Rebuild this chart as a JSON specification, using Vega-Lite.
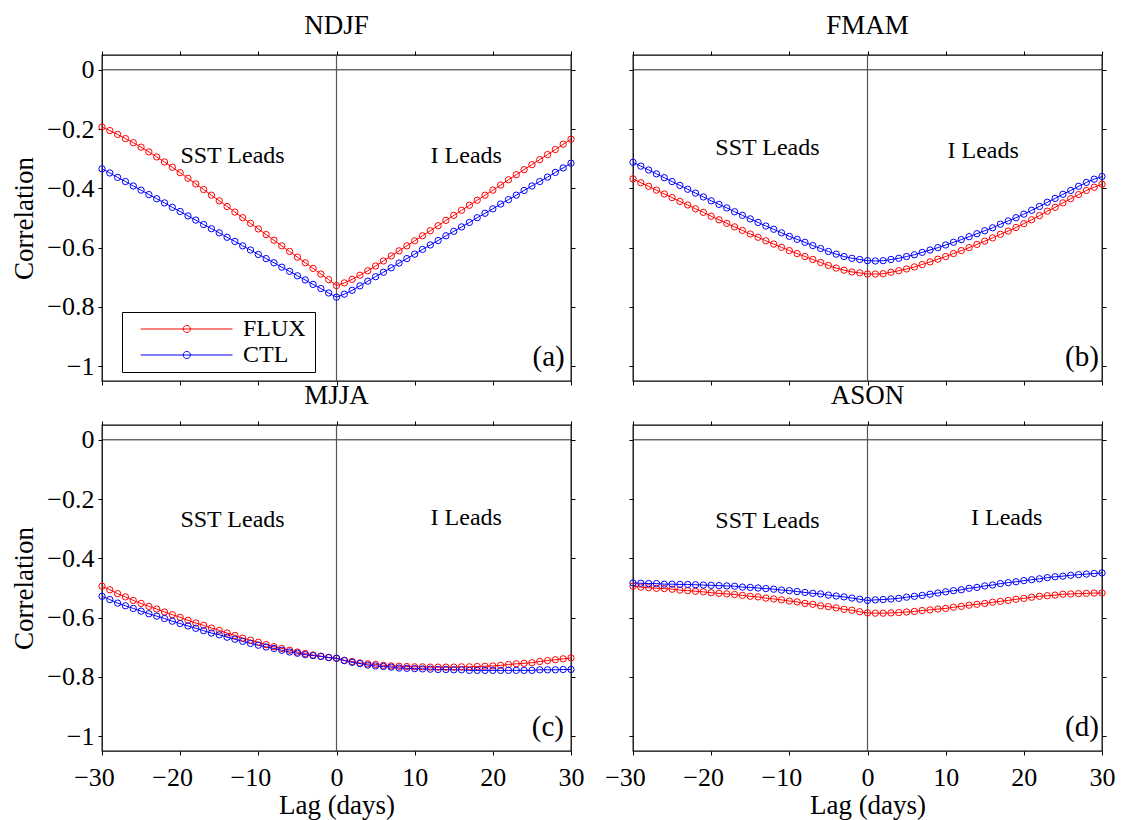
{
"$schema":"https://vega.github.io/schema/vega-lite/v6.json",
"background":"white",
"padding":{"left":10,"top":10,"right":8,"bottom":6},
"config":{
 "font":"Liberation Serif",
 "view":{"stroke":"black","strokeWidth":1.3},
 "axis":{"domain":false,"grid":false,"tickColor":"black","tickSize":4,"tickWidth":1,"labelFont":"Liberation Serif","labelFontSize":26,"labelColor":"black","labelPadding":4,"labelFlush":false,"labelOverlap":false,"titleFont":"Liberation Serif","titleFontSize":27,"titleFontWeight":"normal","titleColor":"black"},
 "title":{"font":"Liberation Serif","fontSize":27,"fontWeight":"normal","color":"black","offset":11},
 "text":{"font":"Liberation Serif","color":"black"}
},
"datasets":{
"corr":[
{"panel":"a","series":"FLUX","lag":-30,"corr":-0.193},{"panel":"a","series":"FLUX","lag":-29,"corr":-0.205},{"panel":"a","series":"FLUX","lag":-28,"corr":-0.218},{"panel":"a","series":"FLUX","lag":-27,"corr":-0.232},{"panel":"a","series":"FLUX","lag":-26,"corr":-0.246},{"panel":"a","series":"FLUX","lag":-25,"corr":-0.261},{"panel":"a","series":"FLUX","lag":-24,"corr":-0.277},{"panel":"a","series":"FLUX","lag":-23,"corr":-0.294},{"panel":"a","series":"FLUX","lag":-22,"corr":-0.311},{"panel":"a","series":"FLUX","lag":-21,"corr":-0.329},{"panel":"a","series":"FLUX","lag":-20,"corr":-0.347},{"panel":"a","series":"FLUX","lag":-19,"corr":-0.366},{"panel":"a","series":"FLUX","lag":-18,"corr":-0.385},{"panel":"a","series":"FLUX","lag":-17,"corr":-0.404},{"panel":"a","series":"FLUX","lag":-16,"corr":-0.423},{"panel":"a","series":"FLUX","lag":-15,"corr":-0.442},{"panel":"a","series":"FLUX","lag":-14,"corr":-0.461},{"panel":"a","series":"FLUX","lag":-13,"corr":-0.480},{"panel":"a","series":"FLUX","lag":-12,"corr":-0.499},{"panel":"a","series":"FLUX","lag":-11,"corr":-0.518},{"panel":"a","series":"FLUX","lag":-10,"corr":-0.537},{"panel":"a","series":"FLUX","lag":-9,"corr":-0.556},{"panel":"a","series":"FLUX","lag":-8,"corr":-0.575},{"panel":"a","series":"FLUX","lag":-7,"corr":-0.594},{"panel":"a","series":"FLUX","lag":-6,"corr":-0.613},{"panel":"a","series":"FLUX","lag":-5,"corr":-0.632},{"panel":"a","series":"FLUX","lag":-4,"corr":-0.651},{"panel":"a","series":"FLUX","lag":-3,"corr":-0.670},{"panel":"a","series":"FLUX","lag":-2,"corr":-0.689},{"panel":"a","series":"FLUX","lag":-1,"corr":-0.708},{"panel":"a","series":"FLUX","lag":0,"corr":-0.728},{"panel":"a","series":"FLUX","lag":1,"corr":-0.719},{"panel":"a","series":"FLUX","lag":2,"corr":-0.707},{"panel":"a","series":"FLUX","lag":3,"corr":-0.693},{"panel":"a","series":"FLUX","lag":4,"corr":-0.678},{"panel":"a","series":"FLUX","lag":5,"corr":-0.662},{"panel":"a","series":"FLUX","lag":6,"corr":-0.645},{"panel":"a","series":"FLUX","lag":7,"corr":-0.628},{"panel":"a","series":"FLUX","lag":8,"corr":-0.611},{"panel":"a","series":"FLUX","lag":9,"corr":-0.594},{"panel":"a","series":"FLUX","lag":10,"corr":-0.577},{"panel":"a","series":"FLUX","lag":11,"corr":-0.560},{"panel":"a","series":"FLUX","lag":12,"corr":-0.543},{"panel":"a","series":"FLUX","lag":13,"corr":-0.526},{"panel":"a","series":"FLUX","lag":14,"corr":-0.508},{"panel":"a","series":"FLUX","lag":15,"corr":-0.491},{"panel":"a","series":"FLUX","lag":16,"corr":-0.474},{"panel":"a","series":"FLUX","lag":17,"corr":-0.457},{"panel":"a","series":"FLUX","lag":18,"corr":-0.440},{"panel":"a","series":"FLUX","lag":19,"corr":-0.423},{"panel":"a","series":"FLUX","lag":20,"corr":-0.406},{"panel":"a","series":"FLUX","lag":21,"corr":-0.389},{"panel":"a","series":"FLUX","lag":22,"corr":-0.371},{"panel":"a","series":"FLUX","lag":23,"corr":-0.354},{"panel":"a","series":"FLUX","lag":24,"corr":-0.337},{"panel":"a","series":"FLUX","lag":25,"corr":-0.320},{"panel":"a","series":"FLUX","lag":26,"corr":-0.303},{"panel":"a","series":"FLUX","lag":27,"corr":-0.286},{"panel":"a","series":"FLUX","lag":28,"corr":-0.269},{"panel":"a","series":"FLUX","lag":29,"corr":-0.251},{"panel":"a","series":"FLUX","lag":30,"corr":-0.234},
{"panel":"a","series":"CTL","lag":-30,"corr":-0.334},{"panel":"a","series":"CTL","lag":-29,"corr":-0.348},{"panel":"a","series":"CTL","lag":-28,"corr":-0.363},{"panel":"a","series":"CTL","lag":-27,"corr":-0.377},{"panel":"a","series":"CTL","lag":-26,"corr":-0.392},{"panel":"a","series":"CTL","lag":-25,"corr":-0.406},{"panel":"a","series":"CTL","lag":-24,"corr":-0.421},{"panel":"a","series":"CTL","lag":-23,"corr":-0.435},{"panel":"a","series":"CTL","lag":-22,"corr":-0.449},{"panel":"a","series":"CTL","lag":-21,"corr":-0.464},{"panel":"a","series":"CTL","lag":-20,"corr":-0.478},{"panel":"a","series":"CTL","lag":-19,"corr":-0.493},{"panel":"a","series":"CTL","lag":-18,"corr":-0.507},{"panel":"a","series":"CTL","lag":-17,"corr":-0.522},{"panel":"a","series":"CTL","lag":-16,"corr":-0.536},{"panel":"a","series":"CTL","lag":-15,"corr":-0.550},{"panel":"a","series":"CTL","lag":-14,"corr":-0.565},{"panel":"a","series":"CTL","lag":-13,"corr":-0.579},{"panel":"a","series":"CTL","lag":-12,"corr":-0.594},{"panel":"a","series":"CTL","lag":-11,"corr":-0.608},{"panel":"a","series":"CTL","lag":-10,"corr":-0.623},{"panel":"a","series":"CTL","lag":-9,"corr":-0.637},{"panel":"a","series":"CTL","lag":-8,"corr":-0.651},{"panel":"a","series":"CTL","lag":-7,"corr":-0.666},{"panel":"a","series":"CTL","lag":-6,"corr":-0.680},{"panel":"a","series":"CTL","lag":-5,"corr":-0.695},{"panel":"a","series":"CTL","lag":-4,"corr":-0.709},{"panel":"a","series":"CTL","lag":-3,"corr":-0.724},{"panel":"a","series":"CTL","lag":-2,"corr":-0.738},{"panel":"a","series":"CTL","lag":-1,"corr":-0.753},{"panel":"a","series":"CTL","lag":0,"corr":-0.767},{"panel":"a","series":"CTL","lag":1,"corr":-0.757},{"panel":"a","series":"CTL","lag":2,"corr":-0.744},{"panel":"a","series":"CTL","lag":3,"corr":-0.729},{"panel":"a","series":"CTL","lag":4,"corr":-0.713},{"panel":"a","series":"CTL","lag":5,"corr":-0.698},{"panel":"a","series":"CTL","lag":6,"corr":-0.683},{"panel":"a","series":"CTL","lag":7,"corr":-0.668},{"panel":"a","series":"CTL","lag":8,"corr":-0.652},{"panel":"a","series":"CTL","lag":9,"corr":-0.637},{"panel":"a","series":"CTL","lag":10,"corr":-0.622},{"panel":"a","series":"CTL","lag":11,"corr":-0.606},{"panel":"a","series":"CTL","lag":12,"corr":-0.591},{"panel":"a","series":"CTL","lag":13,"corr":-0.576},{"panel":"a","series":"CTL","lag":14,"corr":-0.560},{"panel":"a","series":"CTL","lag":15,"corr":-0.545},{"panel":"a","series":"CTL","lag":16,"corr":-0.530},{"panel":"a","series":"CTL","lag":17,"corr":-0.515},{"panel":"a","series":"CTL","lag":18,"corr":-0.499},{"panel":"a","series":"CTL","lag":19,"corr":-0.484},{"panel":"a","series":"CTL","lag":20,"corr":-0.469},{"panel":"a","series":"CTL","lag":21,"corr":-0.453},{"panel":"a","series":"CTL","lag":22,"corr":-0.438},{"panel":"a","series":"CTL","lag":23,"corr":-0.423},{"panel":"a","series":"CTL","lag":24,"corr":-0.407},{"panel":"a","series":"CTL","lag":25,"corr":-0.392},{"panel":"a","series":"CTL","lag":26,"corr":-0.377},{"panel":"a","series":"CTL","lag":27,"corr":-0.362},{"panel":"a","series":"CTL","lag":28,"corr":-0.346},{"panel":"a","series":"CTL","lag":29,"corr":-0.331},{"panel":"a","series":"CTL","lag":30,"corr":-0.315},
{"panel":"b","series":"FLUX","lag":-30,"corr":-0.368},{"panel":"b","series":"FLUX","lag":-29,"corr":-0.381},{"panel":"b","series":"FLUX","lag":-28,"corr":-0.393},{"panel":"b","series":"FLUX","lag":-27,"corr":-0.406},{"panel":"b","series":"FLUX","lag":-26,"corr":-0.419},{"panel":"b","series":"FLUX","lag":-25,"corr":-0.431},{"panel":"b","series":"FLUX","lag":-24,"corr":-0.444},{"panel":"b","series":"FLUX","lag":-23,"corr":-0.456},{"panel":"b","series":"FLUX","lag":-22,"corr":-0.469},{"panel":"b","series":"FLUX","lag":-21,"corr":-0.481},{"panel":"b","series":"FLUX","lag":-20,"corr":-0.494},{"panel":"b","series":"FLUX","lag":-19,"corr":-0.506},{"panel":"b","series":"FLUX","lag":-18,"corr":-0.518},{"panel":"b","series":"FLUX","lag":-17,"corr":-0.530},{"panel":"b","series":"FLUX","lag":-16,"corr":-0.542},{"panel":"b","series":"FLUX","lag":-15,"corr":-0.554},{"panel":"b","series":"FLUX","lag":-14,"corr":-0.565},{"panel":"b","series":"FLUX","lag":-13,"corr":-0.577},{"panel":"b","series":"FLUX","lag":-12,"corr":-0.588},{"panel":"b","series":"FLUX","lag":-11,"corr":-0.599},{"panel":"b","series":"FLUX","lag":-10,"corr":-0.610},{"panel":"b","series":"FLUX","lag":-9,"corr":-0.620},{"panel":"b","series":"FLUX","lag":-8,"corr":-0.630},{"panel":"b","series":"FLUX","lag":-7,"corr":-0.640},{"panel":"b","series":"FLUX","lag":-6,"corr":-0.650},{"panel":"b","series":"FLUX","lag":-5,"corr":-0.660},{"panel":"b","series":"FLUX","lag":-4,"corr":-0.669},{"panel":"b","series":"FLUX","lag":-3,"corr":-0.676},{"panel":"b","series":"FLUX","lag":-2,"corr":-0.682},{"panel":"b","series":"FLUX","lag":-1,"corr":-0.685},{"panel":"b","series":"FLUX","lag":0,"corr":-0.689},{"panel":"b","series":"FLUX","lag":1,"corr":-0.689},{"panel":"b","series":"FLUX","lag":2,"corr":-0.688},{"panel":"b","series":"FLUX","lag":3,"corr":-0.683},{"panel":"b","series":"FLUX","lag":4,"corr":-0.678},{"panel":"b","series":"FLUX","lag":5,"corr":-0.672},{"panel":"b","series":"FLUX","lag":6,"corr":-0.665},{"panel":"b","series":"FLUX","lag":7,"corr":-0.657},{"panel":"b","series":"FLUX","lag":8,"corr":-0.648},{"panel":"b","series":"FLUX","lag":9,"corr":-0.639},{"panel":"b","series":"FLUX","lag":10,"corr":-0.630},{"panel":"b","series":"FLUX","lag":11,"corr":-0.620},{"panel":"b","series":"FLUX","lag":12,"corr":-0.610},{"panel":"b","series":"FLUX","lag":13,"corr":-0.600},{"panel":"b","series":"FLUX","lag":14,"corr":-0.589},{"panel":"b","series":"FLUX","lag":15,"corr":-0.578},{"panel":"b","series":"FLUX","lag":16,"corr":-0.567},{"panel":"b","series":"FLUX","lag":17,"corr":-0.555},{"panel":"b","series":"FLUX","lag":18,"corr":-0.544},{"panel":"b","series":"FLUX","lag":19,"corr":-0.532},{"panel":"b","series":"FLUX","lag":20,"corr":-0.519},{"panel":"b","series":"FLUX","lag":21,"corr":-0.506},{"panel":"b","series":"FLUX","lag":22,"corr":-0.492},{"panel":"b","series":"FLUX","lag":23,"corr":-0.477},{"panel":"b","series":"FLUX","lag":24,"corr":-0.464},{"panel":"b","series":"FLUX","lag":25,"corr":-0.449},{"panel":"b","series":"FLUX","lag":26,"corr":-0.435},{"panel":"b","series":"FLUX","lag":27,"corr":-0.421},{"panel":"b","series":"FLUX","lag":28,"corr":-0.407},{"panel":"b","series":"FLUX","lag":29,"corr":-0.396},{"panel":"b","series":"FLUX","lag":30,"corr":-0.386},
{"panel":"b","series":"CTL","lag":-30,"corr":-0.312},{"panel":"b","series":"CTL","lag":-29,"corr":-0.325},{"panel":"b","series":"CTL","lag":-28,"corr":-0.338},{"panel":"b","series":"CTL","lag":-27,"corr":-0.351},{"panel":"b","series":"CTL","lag":-26,"corr":-0.364},{"panel":"b","series":"CTL","lag":-25,"corr":-0.377},{"panel":"b","series":"CTL","lag":-24,"corr":-0.390},{"panel":"b","series":"CTL","lag":-23,"corr":-0.403},{"panel":"b","series":"CTL","lag":-22,"corr":-0.416},{"panel":"b","series":"CTL","lag":-21,"corr":-0.429},{"panel":"b","series":"CTL","lag":-20,"corr":-0.442},{"panel":"b","series":"CTL","lag":-19,"corr":-0.454},{"panel":"b","series":"CTL","lag":-18,"corr":-0.466},{"panel":"b","series":"CTL","lag":-17,"corr":-0.479},{"panel":"b","series":"CTL","lag":-16,"corr":-0.491},{"panel":"b","series":"CTL","lag":-15,"corr":-0.503},{"panel":"b","series":"CTL","lag":-14,"corr":-0.515},{"panel":"b","series":"CTL","lag":-13,"corr":-0.527},{"panel":"b","series":"CTL","lag":-12,"corr":-0.538},{"panel":"b","series":"CTL","lag":-11,"corr":-0.550},{"panel":"b","series":"CTL","lag":-10,"corr":-0.562},{"panel":"b","series":"CTL","lag":-9,"corr":-0.572},{"panel":"b","series":"CTL","lag":-8,"corr":-0.582},{"panel":"b","series":"CTL","lag":-7,"corr":-0.593},{"panel":"b","series":"CTL","lag":-6,"corr":-0.603},{"panel":"b","series":"CTL","lag":-5,"corr":-0.613},{"panel":"b","series":"CTL","lag":-4,"corr":-0.622},{"panel":"b","series":"CTL","lag":-3,"corr":-0.630},{"panel":"b","series":"CTL","lag":-2,"corr":-0.636},{"panel":"b","series":"CTL","lag":-1,"corr":-0.640},{"panel":"b","series":"CTL","lag":0,"corr":-0.644},{"panel":"b","series":"CTL","lag":1,"corr":-0.645},{"panel":"b","series":"CTL","lag":2,"corr":-0.644},{"panel":"b","series":"CTL","lag":3,"corr":-0.640},{"panel":"b","series":"CTL","lag":4,"corr":-0.636},{"panel":"b","series":"CTL","lag":5,"corr":-0.630},{"panel":"b","series":"CTL","lag":6,"corr":-0.624},{"panel":"b","series":"CTL","lag":7,"corr":-0.616},{"panel":"b","series":"CTL","lag":8,"corr":-0.608},{"panel":"b","series":"CTL","lag":9,"corr":-0.600},{"panel":"b","series":"CTL","lag":10,"corr":-0.591},{"panel":"b","series":"CTL","lag":11,"corr":-0.582},{"panel":"b","series":"CTL","lag":12,"corr":-0.573},{"panel":"b","series":"CTL","lag":13,"corr":-0.563},{"panel":"b","series":"CTL","lag":14,"corr":-0.553},{"panel":"b","series":"CTL","lag":15,"corr":-0.543},{"panel":"b","series":"CTL","lag":16,"corr":-0.533},{"panel":"b","series":"CTL","lag":17,"corr":-0.521},{"panel":"b","series":"CTL","lag":18,"corr":-0.510},{"panel":"b","series":"CTL","lag":19,"corr":-0.499},{"panel":"b","series":"CTL","lag":20,"corr":-0.487},{"panel":"b","series":"CTL","lag":21,"corr":-0.474},{"panel":"b","series":"CTL","lag":22,"corr":-0.461},{"panel":"b","series":"CTL","lag":23,"corr":-0.447},{"panel":"b","series":"CTL","lag":24,"corr":-0.434},{"panel":"b","series":"CTL","lag":25,"corr":-0.420},{"panel":"b","series":"CTL","lag":26,"corr":-0.407},{"panel":"b","series":"CTL","lag":27,"corr":-0.393},{"panel":"b","series":"CTL","lag":28,"corr":-0.380},{"panel":"b","series":"CTL","lag":29,"corr":-0.369},{"panel":"b","series":"CTL","lag":30,"corr":-0.360},
{"panel":"c","series":"FLUX","lag":-30,"corr":-0.494},{"panel":"c","series":"FLUX","lag":-29,"corr":-0.506},{"panel":"c","series":"FLUX","lag":-28,"corr":-0.519},{"panel":"c","series":"FLUX","lag":-27,"corr":-0.530},{"panel":"c","series":"FLUX","lag":-26,"corr":-0.542},{"panel":"c","series":"FLUX","lag":-25,"corr":-0.552},{"panel":"c","series":"FLUX","lag":-24,"corr":-0.562},{"panel":"c","series":"FLUX","lag":-23,"corr":-0.571},{"panel":"c","series":"FLUX","lag":-22,"corr":-0.581},{"panel":"c","series":"FLUX","lag":-21,"corr":-0.590},{"panel":"c","series":"FLUX","lag":-20,"corr":-0.599},{"panel":"c","series":"FLUX","lag":-19,"corr":-0.609},{"panel":"c","series":"FLUX","lag":-18,"corr":-0.618},{"panel":"c","series":"FLUX","lag":-17,"corr":-0.626},{"panel":"c","series":"FLUX","lag":-16,"corr":-0.635},{"panel":"c","series":"FLUX","lag":-15,"corr":-0.643},{"panel":"c","series":"FLUX","lag":-14,"corr":-0.652},{"panel":"c","series":"FLUX","lag":-13,"corr":-0.660},{"panel":"c","series":"FLUX","lag":-12,"corr":-0.669},{"panel":"c","series":"FLUX","lag":-11,"corr":-0.676},{"panel":"c","series":"FLUX","lag":-10,"corr":-0.683},{"panel":"c","series":"FLUX","lag":-9,"corr":-0.691},{"panel":"c","series":"FLUX","lag":-8,"corr":-0.698},{"panel":"c","series":"FLUX","lag":-7,"corr":-0.704},{"panel":"c","series":"FLUX","lag":-6,"corr":-0.710},{"panel":"c","series":"FLUX","lag":-5,"corr":-0.716},{"panel":"c","series":"FLUX","lag":-4,"corr":-0.721},{"panel":"c","series":"FLUX","lag":-3,"corr":-0.726},{"panel":"c","series":"FLUX","lag":-2,"corr":-0.730},{"panel":"c","series":"FLUX","lag":-1,"corr":-0.734},{"panel":"c","series":"FLUX","lag":0,"corr":-0.737},{"panel":"c","series":"FLUX","lag":1,"corr":-0.744},{"panel":"c","series":"FLUX","lag":2,"corr":-0.748},{"panel":"c","series":"FLUX","lag":3,"corr":-0.753},{"panel":"c","series":"FLUX","lag":4,"corr":-0.756},{"panel":"c","series":"FLUX","lag":5,"corr":-0.758},{"panel":"c","series":"FLUX","lag":6,"corr":-0.761},{"panel":"c","series":"FLUX","lag":7,"corr":-0.763},{"panel":"c","series":"FLUX","lag":8,"corr":-0.764},{"panel":"c","series":"FLUX","lag":9,"corr":-0.765},{"panel":"c","series":"FLUX","lag":10,"corr":-0.766},{"panel":"c","series":"FLUX","lag":11,"corr":-0.766},{"panel":"c","series":"FLUX","lag":12,"corr":-0.767},{"panel":"c","series":"FLUX","lag":13,"corr":-0.767},{"panel":"c","series":"FLUX","lag":14,"corr":-0.767},{"panel":"c","series":"FLUX","lag":15,"corr":-0.767},{"panel":"c","series":"FLUX","lag":16,"corr":-0.766},{"panel":"c","series":"FLUX","lag":17,"corr":-0.766},{"panel":"c","series":"FLUX","lag":18,"corr":-0.765},{"panel":"c","series":"FLUX","lag":19,"corr":-0.764},{"panel":"c","series":"FLUX","lag":20,"corr":-0.763},{"panel":"c","series":"FLUX","lag":21,"corr":-0.761},{"panel":"c","series":"FLUX","lag":22,"corr":-0.758},{"panel":"c","series":"FLUX","lag":23,"corr":-0.756},{"panel":"c","series":"FLUX","lag":24,"corr":-0.754},{"panel":"c","series":"FLUX","lag":25,"corr":-0.752},{"panel":"c","series":"FLUX","lag":26,"corr":-0.748},{"panel":"c","series":"FLUX","lag":27,"corr":-0.745},{"panel":"c","series":"FLUX","lag":28,"corr":-0.742},{"panel":"c","series":"FLUX","lag":29,"corr":-0.739},{"panel":"c","series":"FLUX","lag":30,"corr":-0.736},
{"panel":"c","series":"CTL","lag":-30,"corr":-0.528},{"panel":"c","series":"CTL","lag":-29,"corr":-0.539},{"panel":"c","series":"CTL","lag":-28,"corr":-0.551},{"panel":"c","series":"CTL","lag":-27,"corr":-0.560},{"panel":"c","series":"CTL","lag":-26,"corr":-0.569},{"panel":"c","series":"CTL","lag":-25,"corr":-0.578},{"panel":"c","series":"CTL","lag":-24,"corr":-0.587},{"panel":"c","series":"CTL","lag":-23,"corr":-0.595},{"panel":"c","series":"CTL","lag":-22,"corr":-0.603},{"panel":"c","series":"CTL","lag":-21,"corr":-0.612},{"panel":"c","series":"CTL","lag":-20,"corr":-0.620},{"panel":"c","series":"CTL","lag":-19,"corr":-0.628},{"panel":"c","series":"CTL","lag":-18,"corr":-0.636},{"panel":"c","series":"CTL","lag":-17,"corr":-0.644},{"panel":"c","series":"CTL","lag":-16,"corr":-0.652},{"panel":"c","series":"CTL","lag":-15,"corr":-0.658},{"panel":"c","series":"CTL","lag":-14,"corr":-0.666},{"panel":"c","series":"CTL","lag":-13,"corr":-0.673},{"panel":"c","series":"CTL","lag":-12,"corr":-0.680},{"panel":"c","series":"CTL","lag":-11,"corr":-0.687},{"panel":"c","series":"CTL","lag":-10,"corr":-0.693},{"panel":"c","series":"CTL","lag":-9,"corr":-0.699},{"panel":"c","series":"CTL","lag":-8,"corr":-0.704},{"panel":"c","series":"CTL","lag":-7,"corr":-0.710},{"panel":"c","series":"CTL","lag":-6,"corr":-0.716},{"panel":"c","series":"CTL","lag":-5,"corr":-0.720},{"panel":"c","series":"CTL","lag":-4,"corr":-0.725},{"panel":"c","series":"CTL","lag":-3,"corr":-0.728},{"panel":"c","series":"CTL","lag":-2,"corr":-0.731},{"panel":"c","series":"CTL","lag":-1,"corr":-0.735},{"panel":"c","series":"CTL","lag":0,"corr":-0.737},{"panel":"c","series":"CTL","lag":1,"corr":-0.745},{"panel":"c","series":"CTL","lag":2,"corr":-0.751},{"panel":"c","series":"CTL","lag":3,"corr":-0.755},{"panel":"c","series":"CTL","lag":4,"corr":-0.760},{"panel":"c","series":"CTL","lag":5,"corr":-0.763},{"panel":"c","series":"CTL","lag":6,"corr":-0.765},{"panel":"c","series":"CTL","lag":7,"corr":-0.767},{"panel":"c","series":"CTL","lag":8,"corr":-0.770},{"panel":"c","series":"CTL","lag":9,"corr":-0.771},{"panel":"c","series":"CTL","lag":10,"corr":-0.772},{"panel":"c","series":"CTL","lag":11,"corr":-0.773},{"panel":"c","series":"CTL","lag":12,"corr":-0.774},{"panel":"c","series":"CTL","lag":13,"corr":-0.775},{"panel":"c","series":"CTL","lag":14,"corr":-0.775},{"panel":"c","series":"CTL","lag":15,"corr":-0.776},{"panel":"c","series":"CTL","lag":16,"corr":-0.776},{"panel":"c","series":"CTL","lag":17,"corr":-0.778},{"panel":"c","series":"CTL","lag":18,"corr":-0.778},{"panel":"c","series":"CTL","lag":19,"corr":-0.778},{"panel":"c","series":"CTL","lag":20,"corr":-0.778},{"panel":"c","series":"CTL","lag":21,"corr":-0.778},{"panel":"c","series":"CTL","lag":22,"corr":-0.778},{"panel":"c","series":"CTL","lag":23,"corr":-0.778},{"panel":"c","series":"CTL","lag":24,"corr":-0.778},{"panel":"c","series":"CTL","lag":25,"corr":-0.778},{"panel":"c","series":"CTL","lag":26,"corr":-0.776},{"panel":"c","series":"CTL","lag":27,"corr":-0.776},{"panel":"c","series":"CTL","lag":28,"corr":-0.776},{"panel":"c","series":"CTL","lag":29,"corr":-0.775},{"panel":"c","series":"CTL","lag":30,"corr":-0.775},
{"panel":"d","series":"FLUX","lag":-30,"corr":-0.494},{"panel":"d","series":"FLUX","lag":-29,"corr":-0.497},{"panel":"d","series":"FLUX","lag":-28,"corr":-0.499},{"panel":"d","series":"FLUX","lag":-27,"corr":-0.501},{"panel":"d","series":"FLUX","lag":-26,"corr":-0.502},{"panel":"d","series":"FLUX","lag":-25,"corr":-0.504},{"panel":"d","series":"FLUX","lag":-24,"corr":-0.507},{"panel":"d","series":"FLUX","lag":-23,"corr":-0.509},{"panel":"d","series":"FLUX","lag":-22,"corr":-0.511},{"panel":"d","series":"FLUX","lag":-21,"corr":-0.513},{"panel":"d","series":"FLUX","lag":-20,"corr":-0.516},{"panel":"d","series":"FLUX","lag":-19,"corr":-0.518},{"panel":"d","series":"FLUX","lag":-18,"corr":-0.520},{"panel":"d","series":"FLUX","lag":-17,"corr":-0.522},{"panel":"d","series":"FLUX","lag":-16,"corr":-0.525},{"panel":"d","series":"FLUX","lag":-15,"corr":-0.528},{"panel":"d","series":"FLUX","lag":-14,"corr":-0.530},{"panel":"d","series":"FLUX","lag":-13,"corr":-0.534},{"panel":"d","series":"FLUX","lag":-12,"corr":-0.537},{"panel":"d","series":"FLUX","lag":-11,"corr":-0.540},{"panel":"d","series":"FLUX","lag":-10,"corr":-0.544},{"panel":"d","series":"FLUX","lag":-9,"corr":-0.547},{"panel":"d","series":"FLUX","lag":-8,"corr":-0.552},{"panel":"d","series":"FLUX","lag":-7,"corr":-0.555},{"panel":"d","series":"FLUX","lag":-6,"corr":-0.560},{"panel":"d","series":"FLUX","lag":-5,"corr":-0.563},{"panel":"d","series":"FLUX","lag":-4,"corr":-0.567},{"panel":"d","series":"FLUX","lag":-3,"corr":-0.572},{"panel":"d","series":"FLUX","lag":-2,"corr":-0.575},{"panel":"d","series":"FLUX","lag":-1,"corr":-0.580},{"panel":"d","series":"FLUX","lag":0,"corr":-0.584},{"panel":"d","series":"FLUX","lag":1,"corr":-0.585},{"panel":"d","series":"FLUX","lag":2,"corr":-0.585},{"panel":"d","series":"FLUX","lag":3,"corr":-0.584},{"panel":"d","series":"FLUX","lag":4,"corr":-0.583},{"panel":"d","series":"FLUX","lag":5,"corr":-0.581},{"panel":"d","series":"FLUX","lag":6,"corr":-0.579},{"panel":"d","series":"FLUX","lag":7,"corr":-0.576},{"panel":"d","series":"FLUX","lag":8,"corr":-0.574},{"panel":"d","series":"FLUX","lag":9,"corr":-0.571},{"panel":"d","series":"FLUX","lag":10,"corr":-0.569},{"panel":"d","series":"FLUX","lag":11,"corr":-0.565},{"panel":"d","series":"FLUX","lag":12,"corr":-0.562},{"panel":"d","series":"FLUX","lag":13,"corr":-0.558},{"panel":"d","series":"FLUX","lag":14,"corr":-0.555},{"panel":"d","series":"FLUX","lag":15,"corr":-0.552},{"panel":"d","series":"FLUX","lag":16,"corr":-0.548},{"panel":"d","series":"FLUX","lag":17,"corr":-0.545},{"panel":"d","series":"FLUX","lag":18,"corr":-0.542},{"panel":"d","series":"FLUX","lag":19,"corr":-0.538},{"panel":"d","series":"FLUX","lag":20,"corr":-0.535},{"panel":"d","series":"FLUX","lag":21,"corr":-0.531},{"panel":"d","series":"FLUX","lag":22,"corr":-0.528},{"panel":"d","series":"FLUX","lag":23,"corr":-0.526},{"panel":"d","series":"FLUX","lag":24,"corr":-0.524},{"panel":"d","series":"FLUX","lag":25,"corr":-0.521},{"panel":"d","series":"FLUX","lag":26,"corr":-0.520},{"panel":"d","series":"FLUX","lag":27,"corr":-0.519},{"panel":"d","series":"FLUX","lag":28,"corr":-0.518},{"panel":"d","series":"FLUX","lag":29,"corr":-0.517},{"panel":"d","series":"FLUX","lag":30,"corr":-0.517},
{"panel":"d","series":"CTL","lag":-30,"corr":-0.483},{"panel":"d","series":"CTL","lag":-29,"corr":-0.484},{"panel":"d","series":"CTL","lag":-28,"corr":-0.485},{"panel":"d","series":"CTL","lag":-27,"corr":-0.485},{"panel":"d","series":"CTL","lag":-26,"corr":-0.487},{"panel":"d","series":"CTL","lag":-25,"corr":-0.487},{"panel":"d","series":"CTL","lag":-24,"corr":-0.488},{"panel":"d","series":"CTL","lag":-23,"corr":-0.488},{"panel":"d","series":"CTL","lag":-22,"corr":-0.489},{"panel":"d","series":"CTL","lag":-21,"corr":-0.490},{"panel":"d","series":"CTL","lag":-20,"corr":-0.491},{"panel":"d","series":"CTL","lag":-19,"corr":-0.492},{"panel":"d","series":"CTL","lag":-18,"corr":-0.493},{"panel":"d","series":"CTL","lag":-17,"corr":-0.494},{"panel":"d","series":"CTL","lag":-16,"corr":-0.497},{"panel":"d","series":"CTL","lag":-15,"corr":-0.498},{"panel":"d","series":"CTL","lag":-14,"corr":-0.500},{"panel":"d","series":"CTL","lag":-13,"corr":-0.502},{"panel":"d","series":"CTL","lag":-12,"corr":-0.504},{"panel":"d","series":"CTL","lag":-11,"corr":-0.507},{"panel":"d","series":"CTL","lag":-10,"corr":-0.509},{"panel":"d","series":"CTL","lag":-9,"corr":-0.512},{"panel":"d","series":"CTL","lag":-8,"corr":-0.515},{"panel":"d","series":"CTL","lag":-7,"corr":-0.518},{"panel":"d","series":"CTL","lag":-6,"corr":-0.520},{"panel":"d","series":"CTL","lag":-5,"corr":-0.524},{"panel":"d","series":"CTL","lag":-4,"corr":-0.527},{"panel":"d","series":"CTL","lag":-3,"corr":-0.530},{"panel":"d","series":"CTL","lag":-2,"corr":-0.534},{"panel":"d","series":"CTL","lag":-1,"corr":-0.538},{"panel":"d","series":"CTL","lag":0,"corr":-0.542},{"panel":"d","series":"CTL","lag":1,"corr":-0.540},{"panel":"d","series":"CTL","lag":2,"corr":-0.539},{"panel":"d","series":"CTL","lag":3,"corr":-0.537},{"panel":"d","series":"CTL","lag":4,"corr":-0.535},{"panel":"d","series":"CTL","lag":5,"corr":-0.531},{"panel":"d","series":"CTL","lag":6,"corr":-0.528},{"panel":"d","series":"CTL","lag":7,"corr":-0.525},{"panel":"d","series":"CTL","lag":8,"corr":-0.521},{"panel":"d","series":"CTL","lag":9,"corr":-0.517},{"panel":"d","series":"CTL","lag":10,"corr":-0.513},{"panel":"d","series":"CTL","lag":11,"corr":-0.509},{"panel":"d","series":"CTL","lag":12,"corr":-0.506},{"panel":"d","series":"CTL","lag":13,"corr":-0.501},{"panel":"d","series":"CTL","lag":14,"corr":-0.498},{"panel":"d","series":"CTL","lag":15,"corr":-0.493},{"panel":"d","series":"CTL","lag":16,"corr":-0.490},{"panel":"d","series":"CTL","lag":17,"corr":-0.485},{"panel":"d","series":"CTL","lag":18,"corr":-0.482},{"panel":"d","series":"CTL","lag":19,"corr":-0.479},{"panel":"d","series":"CTL","lag":20,"corr":-0.475},{"panel":"d","series":"CTL","lag":21,"corr":-0.472},{"panel":"d","series":"CTL","lag":22,"corr":-0.469},{"panel":"d","series":"CTL","lag":23,"corr":-0.465},{"panel":"d","series":"CTL","lag":24,"corr":-0.462},{"panel":"d","series":"CTL","lag":25,"corr":-0.460},{"panel":"d","series":"CTL","lag":26,"corr":-0.457},{"panel":"d","series":"CTL","lag":27,"corr":-0.455},{"panel":"d","series":"CTL","lag":28,"corr":-0.453},{"panel":"d","series":"CTL","lag":29,"corr":-0.451},{"panel":"d","series":"CTL","lag":30,"corr":-0.449}
],
"notes":[
{"panel":"a","label":"SST Leads","lag":-13.3,"corr":-0.315},{"panel":"a","label":"I Leads","lag":16.6,"corr":-0.315},
{"panel":"b","label":"SST Leads","lag":-12.8,"corr":-0.286},{"panel":"b","label":"I Leads","lag":14.8,"corr":-0.298},
{"panel":"c","label":"SST Leads","lag":-13.3,"corr":-0.294},{"panel":"c","label":"I Leads","lag":16.6,"corr":-0.286},
{"panel":"d","label":"SST Leads","lag":-12.8,"corr":-0.296},{"panel":"d","label":"I Leads","lag":17.8,"corr":-0.286}
],
"tags":[
{"panel":"a","label":"(a)","lag":29.2,"corr":-1.0},{"panel":"b","label":"(b)","lag":29.6,"corr":-1.0},
{"panel":"c","label":"(c)","lag":29.1,"corr":-1.0},{"panel":"d","label":"(d)","lag":29.6,"corr":-1.0}
]
},
"columns":2,
"spacing":{"row":-7,"column":19},
"resolve":{"scale":{"color":"independent"},"legend":{"color":"independent"}},
"concat":[
{"title":"NDJF","width":469,"height":326,
 "layer":[
  {"data":{"values":[{}]},"mark":{"type":"rule","color":"#222","strokeWidth":1},"encoding":{"y":{"datum":0,"type":"quantitative","scale":{"domain":[-1.05,0.05],"nice":false,"zero":false},"axis":{"orient":"right","labels":false,"title":null,"values":[0,-0.2,-0.4,-0.6,-0.8,-1]}}}},
  {"data":{"values":[{}]},"mark":{"type":"rule","color":"#555","strokeWidth":1.2},"encoding":{"x":{"datum":0,"type":"quantitative","scale":{"domain":[-30,30],"nice":false,"zero":false},"axis":{"orient":"top","labels":false,"title":null,"values":[-30,-20,-10,0,10,20,30]}}}},
  {"data":{"name":"corr"},"transform":[{"filter":"datum.panel==='a'"}],"mark":{"type":"line","strokeWidth":1},
   "encoding":{"x":{"field":"lag","type":"quantitative","scale":{"domain":[-30,30],"nice":false,"zero":false},"axis":{"orient":"bottom","labels":false,"title":null,"values":[-30,-20,-10,0,10,20,30]}},
    "y":{"field":"corr","type":"quantitative","scale":{"domain":[-1.05,0.05],"nice":false,"zero":false},"axis":{"orient":"left","title":"Correlation","format":"~g","titlePadding":8,"values":[0,-0.2,-0.4,-0.6,-0.8,-1]}},
    "color":{"field":"series","type":"nominal","sort":["FLUX","CTL"],"scale":{"domain":["FLUX","CTL"],"range":["#ff0000","#0000ff"]},
      "legend":{"orient":"none","legendX":20,"legendY":257,"title":"\u00a0","titleOrient":"right","titleFontSize":24,"titlePadding":4,"strokeColor":"black","fillColor":"white","padding":5,"labelFont":"Liberation Serif","labelFontSize":24,"labelColor":"black","labelOffset":5,"rowPadding":2,"clipHeight":24,"symbolSize":12100,"symbolStrokeWidth":1,"symbolFillColor":"transparent","symbolType":"M-0.758,0L0.909,0M0.143,0A0.065,0.065,0,1,1,0.013,0A0.065,0.065,0,1,1,0.143,0"}}}},
  {"data":{"name":"corr"},"transform":[{"filter":"datum.panel==='a'"}],"mark":{"type":"point","shape":"circle","filled":false,"size":40,"strokeWidth":1,"opacity":1},
   "encoding":{"x":{"field":"lag","type":"quantitative","scale":{"domain":[-30,30],"nice":false,"zero":false},"axis":null},"y":{"field":"corr","type":"quantitative","scale":{"domain":[-1.05,0.05],"nice":false,"zero":false},"axis":null},"color":{"field":"series","type":"nominal","sort":["FLUX","CTL"]}}},
  {"data":{"name":"notes"},"transform":[{"filter":"datum.panel==='a'"}],"mark":{"type":"text","fontSize":24,"align":"center","baseline":"alphabetic"},
   "encoding":{"x":{"field":"lag","type":"quantitative","scale":{"domain":[-30,30],"nice":false,"zero":false},"axis":null},"y":{"field":"corr","type":"quantitative","scale":{"domain":[-1.05,0.05],"nice":false,"zero":false},"axis":null},"text":{"field":"label"}}},
  {"data":{"name":"tags"},"transform":[{"filter":"datum.panel==='a'"}],"mark":{"type":"text","fontSize":29,"align":"right","baseline":"alphabetic"},
   "encoding":{"x":{"field":"lag","type":"quantitative","scale":{"domain":[-30,30],"nice":false,"zero":false},"axis":null},"y":{"field":"corr","type":"quantitative","scale":{"domain":[-1.05,0.05],"nice":false,"zero":false},"axis":null},"text":{"field":"label"}}}
 ],
 "resolve":{"axis":{"x":"independent","y":"independent"}}},
{"title":"FMAM","width":469,"height":326,
 "layer":[
  {"data":{"values":[{}]},"mark":{"type":"rule","color":"#222","strokeWidth":1},"encoding":{"y":{"datum":0,"type":"quantitative","scale":{"domain":[-1.05,0.05],"nice":false,"zero":false},"axis":{"orient":"right","labels":false,"title":null,"values":[0,-0.2,-0.4,-0.6,-0.8,-1]}}}},
  {"data":{"values":[{}]},"mark":{"type":"rule","color":"#555","strokeWidth":1.2},"encoding":{"x":{"datum":0,"type":"quantitative","scale":{"domain":[-30,30],"nice":false,"zero":false},"axis":{"orient":"top","labels":false,"title":null,"values":[-30,-20,-10,0,10,20,30]}}}},
  {"data":{"name":"corr"},"transform":[{"filter":"datum.panel==='b'"}],"mark":{"type":"line","strokeWidth":1},
   "encoding":{"x":{"field":"lag","type":"quantitative","scale":{"domain":[-30,30],"nice":false,"zero":false},"axis":{"orient":"bottom","labels":false,"title":null,"values":[-30,-20,-10,0,10,20,30]}},
    "y":{"field":"corr","type":"quantitative","scale":{"domain":[-1.05,0.05],"nice":false,"zero":false},"axis":{"orient":"left","labels":false,"title":null,"values":[0,-0.2,-0.4,-0.6,-0.8,-1]}},
    "color":{"field":"series","type":"nominal","scale":{"domain":["FLUX","CTL"],"range":["#ff0000","#0000ff"]},"legend":null}}},
  {"data":{"name":"corr"},"transform":[{"filter":"datum.panel==='b'"}],"mark":{"type":"point","shape":"circle","filled":false,"size":40,"strokeWidth":1,"opacity":1},
   "encoding":{"x":{"field":"lag","type":"quantitative","scale":{"domain":[-30,30],"nice":false,"zero":false},"axis":null},"y":{"field":"corr","type":"quantitative","scale":{"domain":[-1.05,0.05],"nice":false,"zero":false},"axis":null},"color":{"field":"series","type":"nominal","legend":null}}},
  {"data":{"name":"notes"},"transform":[{"filter":"datum.panel==='b'"}],"mark":{"type":"text","fontSize":24,"align":"center","baseline":"alphabetic"},
   "encoding":{"x":{"field":"lag","type":"quantitative","scale":{"domain":[-30,30],"nice":false,"zero":false},"axis":null},"y":{"field":"corr","type":"quantitative","scale":{"domain":[-1.05,0.05],"nice":false,"zero":false},"axis":null},"text":{"field":"label"}}},
  {"data":{"name":"tags"},"transform":[{"filter":"datum.panel==='b'"}],"mark":{"type":"text","fontSize":29,"align":"right","baseline":"alphabetic"},
   "encoding":{"x":{"field":"lag","type":"quantitative","scale":{"domain":[-30,30],"nice":false,"zero":false},"axis":null},"y":{"field":"corr","type":"quantitative","scale":{"domain":[-1.05,0.05],"nice":false,"zero":false},"axis":null},"text":{"field":"label"}}}
 ],
 "resolve":{"axis":{"x":"independent","y":"independent"}}},
{"title":"MJJA","width":469,"height":326,
 "layer":[
  {"data":{"values":[{}]},"mark":{"type":"rule","color":"#222","strokeWidth":1},"encoding":{"y":{"datum":0,"type":"quantitative","scale":{"domain":[-1.05,0.05],"nice":false,"zero":false},"axis":{"orient":"right","labels":false,"title":null,"values":[0,-0.2,-0.4,-0.6,-0.8,-1]}}}},
  {"data":{"values":[{}]},"mark":{"type":"rule","color":"#555","strokeWidth":1.2},"encoding":{"x":{"datum":0,"type":"quantitative","scale":{"domain":[-30,30],"nice":false,"zero":false},"axis":{"orient":"top","labels":false,"title":null,"values":[-30,-20,-10,0,10,20,30]}}}},
  {"data":{"name":"corr"},"transform":[{"filter":"datum.panel==='c'"}],"mark":{"type":"line","strokeWidth":1},
   "encoding":{"x":{"field":"lag","type":"quantitative","scale":{"domain":[-30,30],"nice":false,"zero":false},"axis":{"orient":"bottom","title":"Lag (days)","titlePadding":2,"labelPadding":9,"labelOffset":{"condition":{"test":"datum.value < 0","value":-8},"value":0},"values":[-30,-20,-10,0,10,20,30]}},
    "y":{"field":"corr","type":"quantitative","scale":{"domain":[-1.05,0.05],"nice":false,"zero":false},"axis":{"orient":"left","title":"Correlation","format":"~g","titlePadding":8,"values":[0,-0.2,-0.4,-0.6,-0.8,-1]}},
    "color":{"field":"series","type":"nominal","scale":{"domain":["FLUX","CTL"],"range":["#ff0000","#0000ff"]},"legend":null}}},
  {"data":{"name":"corr"},"transform":[{"filter":"datum.panel==='c'"}],"mark":{"type":"point","shape":"circle","filled":false,"size":40,"strokeWidth":1,"opacity":1},
   "encoding":{"x":{"field":"lag","type":"quantitative","scale":{"domain":[-30,30],"nice":false,"zero":false},"axis":null},"y":{"field":"corr","type":"quantitative","scale":{"domain":[-1.05,0.05],"nice":false,"zero":false},"axis":null},"color":{"field":"series","type":"nominal","legend":null}}},
  {"data":{"name":"notes"},"transform":[{"filter":"datum.panel==='c'"}],"mark":{"type":"text","fontSize":24,"align":"center","baseline":"alphabetic"},
   "encoding":{"x":{"field":"lag","type":"quantitative","scale":{"domain":[-30,30],"nice":false,"zero":false},"axis":null},"y":{"field":"corr","type":"quantitative","scale":{"domain":[-1.05,0.05],"nice":false,"zero":false},"axis":null},"text":{"field":"label"}}},
  {"data":{"name":"tags"},"transform":[{"filter":"datum.panel==='c'"}],"mark":{"type":"text","fontSize":29,"align":"right","baseline":"alphabetic"},
   "encoding":{"x":{"field":"lag","type":"quantitative","scale":{"domain":[-30,30],"nice":false,"zero":false},"axis":null},"y":{"field":"corr","type":"quantitative","scale":{"domain":[-1.05,0.05],"nice":false,"zero":false},"axis":null},"text":{"field":"label"}}}
 ],
 "resolve":{"axis":{"x":"independent","y":"independent"}}},
{"title":"ASON","width":469,"height":326,
 "layer":[
  {"data":{"values":[{}]},"mark":{"type":"rule","color":"#222","strokeWidth":1},"encoding":{"y":{"datum":0,"type":"quantitative","scale":{"domain":[-1.05,0.05],"nice":false,"zero":false},"axis":{"orient":"right","labels":false,"title":null,"values":[0,-0.2,-0.4,-0.6,-0.8,-1]}}}},
  {"data":{"values":[{}]},"mark":{"type":"rule","color":"#555","strokeWidth":1.2},"encoding":{"x":{"datum":0,"type":"quantitative","scale":{"domain":[-30,30],"nice":false,"zero":false},"axis":{"orient":"top","labels":false,"title":null,"values":[-30,-20,-10,0,10,20,30]}}}},
  {"data":{"name":"corr"},"transform":[{"filter":"datum.panel==='d'"}],"mark":{"type":"line","strokeWidth":1},
   "encoding":{"x":{"field":"lag","type":"quantitative","scale":{"domain":[-30,30],"nice":false,"zero":false},"axis":{"orient":"bottom","title":"Lag (days)","titlePadding":2,"labelPadding":9,"labelOffset":{"condition":{"test":"datum.value < 0","value":-8},"value":0},"values":[-30,-20,-10,0,10,20,30]}},
    "y":{"field":"corr","type":"quantitative","scale":{"domain":[-1.05,0.05],"nice":false,"zero":false},"axis":{"orient":"left","labels":false,"title":null,"values":[0,-0.2,-0.4,-0.6,-0.8,-1]}},
    "color":{"field":"series","type":"nominal","scale":{"domain":["FLUX","CTL"],"range":["#ff0000","#0000ff"]},"legend":null}}},
  {"data":{"name":"corr"},"transform":[{"filter":"datum.panel==='d'"}],"mark":{"type":"point","shape":"circle","filled":false,"size":40,"strokeWidth":1,"opacity":1},
   "encoding":{"x":{"field":"lag","type":"quantitative","scale":{"domain":[-30,30],"nice":false,"zero":false},"axis":null},"y":{"field":"corr","type":"quantitative","scale":{"domain":[-1.05,0.05],"nice":false,"zero":false},"axis":null},"color":{"field":"series","type":"nominal","legend":null}}},
  {"data":{"name":"notes"},"transform":[{"filter":"datum.panel==='d'"}],"mark":{"type":"text","fontSize":24,"align":"center","baseline":"alphabetic"},
   "encoding":{"x":{"field":"lag","type":"quantitative","scale":{"domain":[-30,30],"nice":false,"zero":false},"axis":null},"y":{"field":"corr","type":"quantitative","scale":{"domain":[-1.05,0.05],"nice":false,"zero":false},"axis":null},"text":{"field":"label"}}},
  {"data":{"name":"tags"},"transform":[{"filter":"datum.panel==='d'"}],"mark":{"type":"text","fontSize":29,"align":"right","baseline":"alphabetic"},
   "encoding":{"x":{"field":"lag","type":"quantitative","scale":{"domain":[-30,30],"nice":false,"zero":false},"axis":null},"y":{"field":"corr","type":"quantitative","scale":{"domain":[-1.05,0.05],"nice":false,"zero":false},"axis":null},"text":{"field":"label"}}}
 ],
 "resolve":{"axis":{"x":"independent","y":"independent"}}}
]
}
